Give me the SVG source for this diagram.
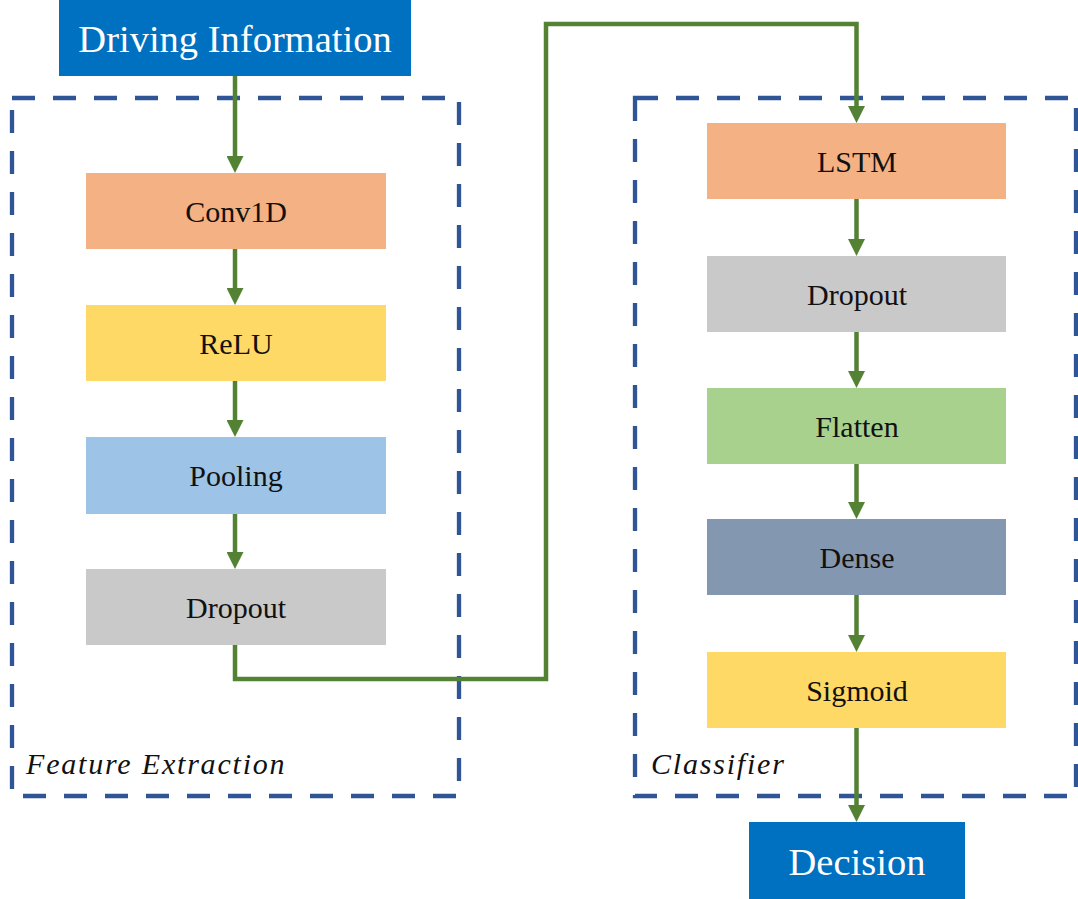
<svg xmlns="http://www.w3.org/2000/svg" width="1078" height="899" viewBox="0 0 1078 899">
<style>
.frame{fill:none;stroke:#2F5597;stroke-width:4.3;stroke-dasharray:23 18}
.io{fill:#0070C0}
.iot{font-family:"Liberation Serif","Times New Roman",serif;font-size:38.5px;fill:#fff;text-anchor:middle}
.nt{font-family:"Liberation Serif","Times New Roman",serif;font-size:30px;fill:#111;text-anchor:middle}
.lbl{font-family:"Liberation Serif","Times New Roman",serif;font-size:30px;font-style:italic;fill:#111;letter-spacing:1.8px}
.edge{fill:none;stroke:#548235;stroke-width:4.5}
</style>
<defs>
<marker id="ah" viewBox="0 0 17 17" refX="9" refY="8.5" markerWidth="17" markerHeight="17" markerUnits="userSpaceOnUse" orient="auto">
<path d="M0,0 L17,8.5 L0,17 Z" fill="#548235"/>
</marker>
</defs>
<rect width="1078" height="899" fill="#fff"/>
<g id="feature-extraction">
<rect class="frame" x="12" y="98" width="447" height="698"/>
<text class="lbl" x="26" y="774">Feature Extraction</text>
</g>
<g id="classifier">
<rect class="frame" x="635" y="98" width="441" height="698"/>
<text class="lbl" x="651" y="774">Classifier</text>
</g>
<g id="driving-information">
<rect class="io" x="59" y="0" width="352" height="76"/>
<text class="iot" x="235" y="52">Driving Information</text>
</g>
<g id="conv1d">
<rect x="86" y="173" width="300" height="76" fill="#F4B183"/>
<text class="nt" x="236" y="222">Conv1D</text>
</g>
<g id="relu">
<rect x="86" y="305" width="300" height="76" fill="#FFD966"/>
<text class="nt" x="236" y="354">ReLU</text>
</g>
<g id="pooling">
<rect x="86" y="437" width="300" height="77" fill="#9DC3E6"/>
<text class="nt" x="236" y="486">Pooling</text>
</g>
<g id="dropout1">
<rect x="86" y="569" width="300" height="76" fill="#C9C9C9"/>
<text class="nt" x="236" y="618">Dropout</text>
</g>
<g id="lstm">
<rect x="707" y="123" width="299" height="76" fill="#F4B183"/>
<text class="nt" x="857" y="172">LSTM</text>
</g>
<g id="dropout2">
<rect x="707" y="256" width="299" height="76" fill="#C9C9C9"/>
<text class="nt" x="857" y="305">Dropout</text>
</g>
<g id="flatten">
<rect x="707" y="388" width="299" height="76" fill="#A9D18E"/>
<text class="nt" x="857" y="437">Flatten</text>
</g>
<g id="dense">
<rect x="707" y="519" width="299" height="76" fill="#8497B0"/>
<text class="nt" x="857" y="568">Dense</text>
</g>
<g id="sigmoid">
<rect x="707" y="652" width="299" height="76" fill="#FFD966"/>
<text class="nt" x="857" y="701">Sigmoid</text>
</g>
<g id="decision">
<rect class="io" x="749" y="822" width="216" height="77"/>
<text class="iot" x="857" y="875">Decision</text>
</g>
<g id="connectors">
<path class="edge" d="M235,76 V165" marker-end="url(#ah)"/>
<path class="edge" d="M235,249 V297" marker-end="url(#ah)"/>
<path class="edge" d="M235,381 V429" marker-end="url(#ah)"/>
<path class="edge" d="M235,514 V561" marker-end="url(#ah)"/>
<path class="edge" d="M235,645 V679 H546 V24 H856.5 V115" marker-end="url(#ah)"/>
<path class="edge" d="M856.5,199 V248" marker-end="url(#ah)"/>
<path class="edge" d="M856.5,332 V380" marker-end="url(#ah)"/>
<path class="edge" d="M856.5,464 V511" marker-end="url(#ah)"/>
<path class="edge" d="M856.5,595 V644" marker-end="url(#ah)"/>
<path class="edge" d="M856.5,728 V814" marker-end="url(#ah)"/>
</g>
</svg>
